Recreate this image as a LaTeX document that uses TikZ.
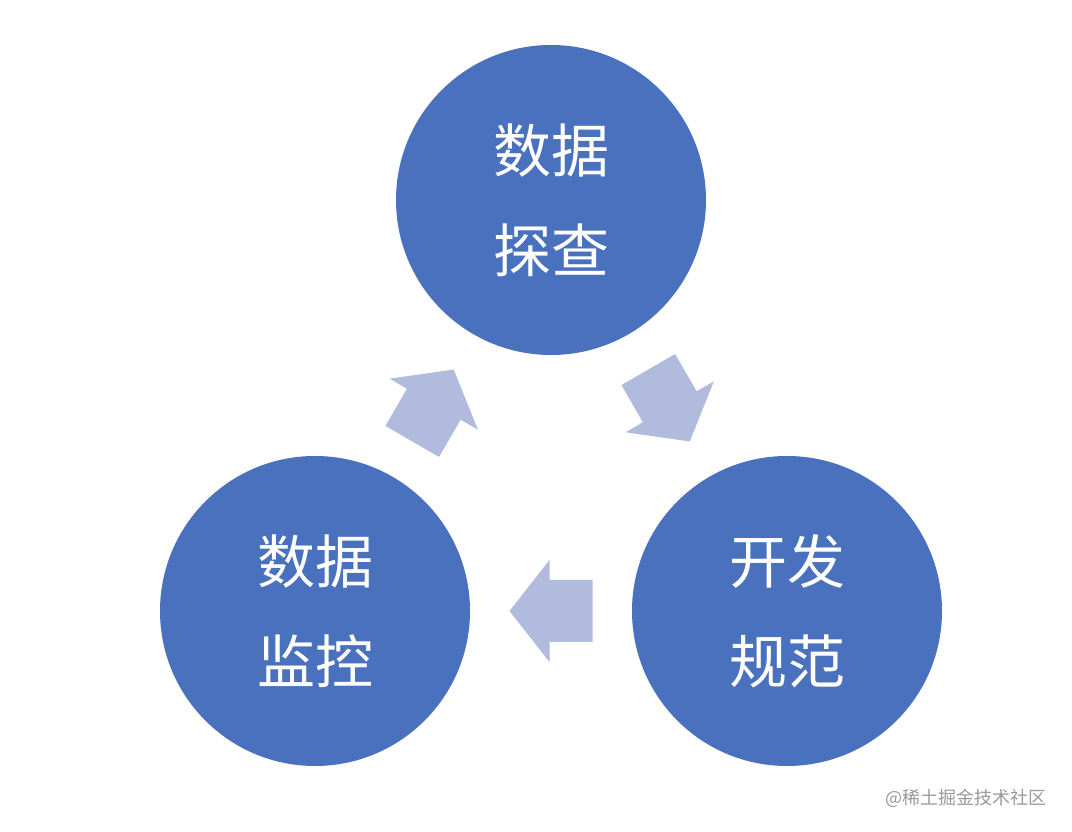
\documentclass[tikz,border=0pt]{standalone}
\usepackage{fontspec}
\newfontfamily\cjk{Noto Sans CJK SC}
\usetikzlibrary{calc}
\definecolor{stageblue}{HTML}{4A71BE}
\definecolor{flowblue}{HTML}{B1BBDD}
\definecolor{markgray}{HTML}{9A9A9A}
\tikzset{
  stage/.style={circle, fill=stageblue, minimum size=310pt, inner sep=0pt,
    text=white, align=center, font=\cjk\fontsize{58}{100}\selectfont},
  flow/.style={fill=flowblue},
}
\begin{document}
\begin{tikzpicture}[x=1pt,y=1pt]
% Fix the page size
\useasboundingbox[fill=white] (0,0) rectangle (1072,832);

% Draw the three stages
\node[stage] (explore) at (551,632) {数据\\探查};
\node[stage] (norm) at (787,221) {开发\\规范};
\node[stage] (monitor) at (315,221) {数据\\监控};

% Draw block arrows between the stages
\foreach \from/\to/\angle in {monitor/explore/60, explore/norm/-60, norm/monitor/180} {
   \coordinate (mid) at ($(\from)!0.5!(\to)$);
   \fill[flow, shift={(mid)}, rotate=\angle] (-41.5,-31) -- (1.5,-31) -- (1.5,-51) --
      (41.5,0) -- (1.5,51) -- (1.5,31) -- (-41.5,31) -- cycle;
}

% Watermark
\node[anchor=east, text=markgray, font=\cjk\fontsize{18}{20}\selectfont] (mark) at (1050,34) {@稀土掘金技术社区};
\end{tikzpicture}
\end{document}
